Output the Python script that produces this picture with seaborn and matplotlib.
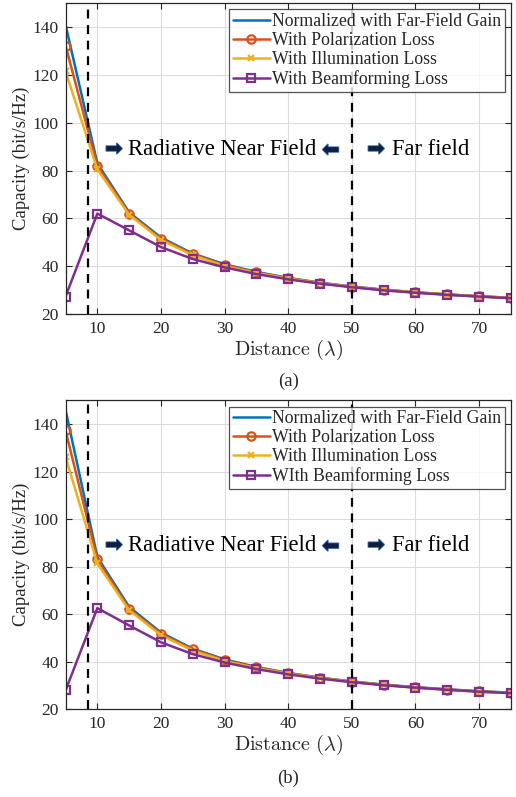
import matplotlib
matplotlib.use("Agg")
import matplotlib.pyplot as plt
import matplotlib.patheffects as pe
import numpy as np
import pandas as pd
import seaborn as sns

sns.set_theme(style="ticks")
plt.rcParams["font.family"] = ["Liberation Serif", "DejaVu Sans"]
plt.rcParams["mathtext.fontset"] = "cm"

distance = [5, 10, 15, 20, 25, 30, 35, 40, 45, 50, 55, 60, 65, 70, 75]

# panel (a)
far_a = [141, 83, 62.5, 52, 45.3, 40.8, 37.6, 35.1, 33.1, 31.5, 30.2, 29.1, 28.2, 27.4, 26.8]
pol_a = [132.3, 82, 62, 51.5, 45, 40.5, 37.4, 35, 33, 31.4, 30.1, 29.1, 28.2, 27.4, 26.8]
ill_a = [121.5, 80.5, 61.5, 51, 44.5, 40.1, 37.1, 34.8, 32.9, 31.3, 30.0, 29.0, 28.1, 27.3, 26.7]
bf_a = [27.3, 62, 55, 48, 43, 39.5, 36.7, 34.5, 32.7, 31.2, 29.9, 28.9, 28.0, 27.3, 26.6]

# panel (b)
far_b = [146, 84, 63, 52.2, 45.4, 40.9, 37.7, 35.2, 33.2, 31.6, 30.3, 29.2, 28.3, 27.5, 26.9]
pol_b = [137.3, 83, 62.2, 51.7, 45.1, 40.6, 37.5, 35.1, 33.1, 31.5, 30.2, 29.1, 28.2, 27.4, 26.8]
ill_b = [126.2, 81.3, 61.6, 51.1, 44.6, 40.2, 37.2, 34.9, 33.0, 31.4, 30.1, 29.0, 28.1, 27.3, 26.7]
bf_b = [27.8, 62.5, 55.2, 48.1, 43.1, 39.6, 36.8, 34.6, 32.8, 31.3, 30.0, 29.0, 28.1, 27.3, 26.7]

labels_a = ["Normalized with Far-Field Gain", "With Polarization Loss",
            "With Illumination Loss", "With Beamforming Loss"]
labels_b = ["Normalized with Far-Field Gain", "With Polarization Loss",
            "With Illumination Loss", "WIth Beamforming Loss"]

colors = ["#0072BD", "#D95319", "#EDB120", "#7E2F8E"]
markers = [None, "o", "x", "s"]
msizes = [0, 6, 4.5, 5.5]

near_boundary = 8.6
far_boundary = 50

fig = plt.figure(figsize=(5.16, 7.97), dpi=100)
ax_a = fig.add_axes([0.127, 0.606, 0.863, 0.390])
ax_b = fig.add_axes([0.127, 0.1104, 0.863, 0.3873])


def draw_panel(ax, series, labels, caption):
    for vals, lab, c, m, ms in zip(series, labels, colors, markers, msizes):
        df = pd.DataFrame({"d": distance, "c": vals})
        kw = dict(marker=m, markersize=ms, markerfacecolor="none",
                  markeredgecolor=c, markeredgewidth=1.6) if m else {}
        sns.lineplot(data=df, x="d", y="c", ax=ax, color=c, linewidth=1.8,
                     label=lab, **kw)
    ax.axvline(near_boundary, color="black", linestyle=(0, (4, 3)), linewidth=1.6)
    ax.axvline(far_boundary, color="black", linestyle=(0, (4, 3)), linewidth=1.6)

    ax.set_xlim(5, 75)
    ax.set_ylim(20, 150)
    ax.set_xticks(np.arange(10, 80, 10))
    ax.set_yticks(np.arange(20, 160, 20))
    ax.grid(True, color="#dcdcdc", linewidth=0.8)
    ax.tick_params(direction="in", top=True, right=True, length=4,
                   labelsize=12.5, colors="#262626", width=0.8, pad=5)
    for s in ax.spines.values():
        s.set_color("#262626")
        s.set_linewidth(0.9)
    ax.set_xlabel(r"$\mathrm{Distance}\ (\lambda)$", fontsize=14.5, labelpad=1)
    ax.set_ylabel("Capacity (bit/s/Hz)", fontsize=13.5, labelpad=2)

    leg = ax.legend(loc="upper right", fontsize=12.8, frameon=True, fancybox=False,
                    borderaxespad=0.35, handlelength=2.1, handletextpad=0.1,
                    borderpad=0.2, labelspacing=0.12)
    leg.get_frame().set_edgecolor("#262626")
    leg.get_frame().set_linewidth(0.9)

    arrow_fx = [pe.withStroke(linewidth=1.2, foreground="#3f6fbf")]
    arrow_kw = dict(fontsize=15, color="#10203a", va="center", ha="center",
                    family=["DejaVu Sans"], path_effects=arrow_fx)
    ty = 89
    ax.text(12.6, ty, "➡", **arrow_kw)
    ax.text(14.8, ty, "Radiative Near Field", fontsize=16.3, va="center",
            color="black")
    ax.text(46.7, ty, "➡", rotation=180, **arrow_kw)
    ax.text(53.8, ty, "➡", **arrow_kw)
    ax.text(56.3, ty, "Far field", fontsize=16.3, va="center", color="black")

    ax.text(0.5, caption[1], caption[0], transform=ax.transAxes, ha="center",
            va="center", fontsize=13.5)


draw_panel(ax_a, [far_a, pol_a, ill_a, bf_a], labels_a, ("(a)", -0.218))
draw_panel(ax_b, [far_b, pol_b, ill_b, bf_b], labels_b, ("(b)", -0.224))

fig.savefig("out.png", dpi=100)
